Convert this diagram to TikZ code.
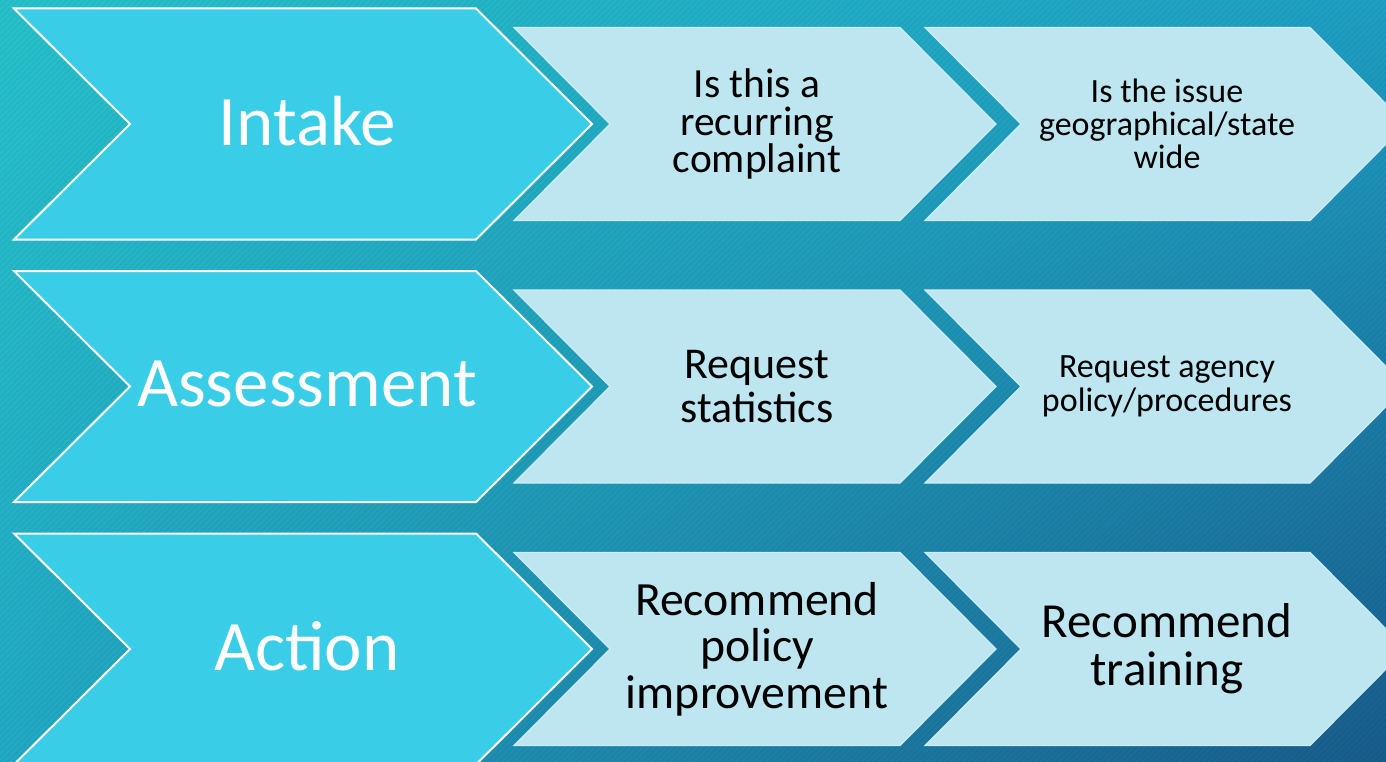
\documentclass[tikz,border=0pt]{standalone}
\usepackage{fontspec}
\setmainfont{Carlito}
\usetikzlibrary{patterns.meta,shadings}
\definecolor{bgUL}{HTML}{27C1CA}
\definecolor{bgUR}{HTML}{1E9FC3}
\definecolor{bgLL}{HTML}{22A9C4}
\definecolor{bgLR}{HTML}{185C8B}
\definecolor{bigfill}{HTML}{3ACDE7}
\definecolor{lightfill}{HTML}{BDE6F0}
\definecolor{lightedge}{HTML}{CDEDF5}
\tikzset{
  bigchev/.style={fill=bigfill, draw=white, line width=2pt, line join=miter},
  lightchev/.style={fill=lightfill, draw=lightedge, line width=1.2pt, line join=miter},
  bigtext/.style={text=white, font=\fontsize{71}{80}\selectfont, inner sep=0pt},
  smalltext/.style={text=black, align=center, inner sep=0pt},
}
\begin{document}
\begin{tikzpicture}[x=1pt,y=-1pt]
\useasboundingbox (0,0) rectangle (1386,762);
\clip (0,0) rectangle (1386,762);
\shade[upper left=bgUL, upper right=bgUR, lower left=bgLL, lower right=bgLR] (0,0) rectangle (1386,762);
\fill[pattern={Lines[angle=45,distance=4pt,line width=1.4pt]}, pattern color=black, opacity=0.05] (0,0) rectangle (1386,762);
\foreach \c in {124,386.5,649}{
  \draw[lightchev] (514,\c-96.5) -- (900,\c-96.5) -- (996,\c) -- (900,\c+96.5) -- (514,\c+96.5) -- (610,\c) -- cycle;
  \draw[lightchev] (925,\c-96.5) -- (1310,\c-96.5) -- (1406,\c) -- (1310,\c+96.5) -- (925,\c+96.5) -- (1021,\c) -- cycle;
  \draw[bigchev] (14,\c-115.5) -- (476,\c-115.5) -- (592,\c) -- (476,\c+115.5) -- (14,\c+115.5) -- (130,\c) -- cycle;
}
\node[bigtext] (intake) at (307,121) {Intake};
\node[bigtext] (assess) at (307,384) {Assessment};
\node[bigtext] (action) at (307,646) {Action};
\node[smalltext, font=\fontsize{41.5}{37.5}\selectfont] (recur) at (757,124) {Is this a\\recurring\\complaint};
\node[smalltext, font=\fontsize{34}{33}\selectfont] (geo) at (1167,124) {Is the issue\\geographical/state\\wide};
\node[smalltext, font=\fontsize{44}{44.5}\selectfont] (stats) at (757,386.5) {Request\\statistics};
\node[smalltext, font=\fontsize{34}{33.4}\selectfont] (policy) at (1167,386.5) {Request agency\\policy/procedures};
\node[smalltext, font=\fontsize{47.7}{46.5}\selectfont] (improve) at (757,649) {Recommend\\policy\\improvement};
\node[smalltext, font=\fontsize{49}{47.7}\selectfont] (train) at (1167,649) {Recommend\\training};
\end{tikzpicture}
\end{document}
